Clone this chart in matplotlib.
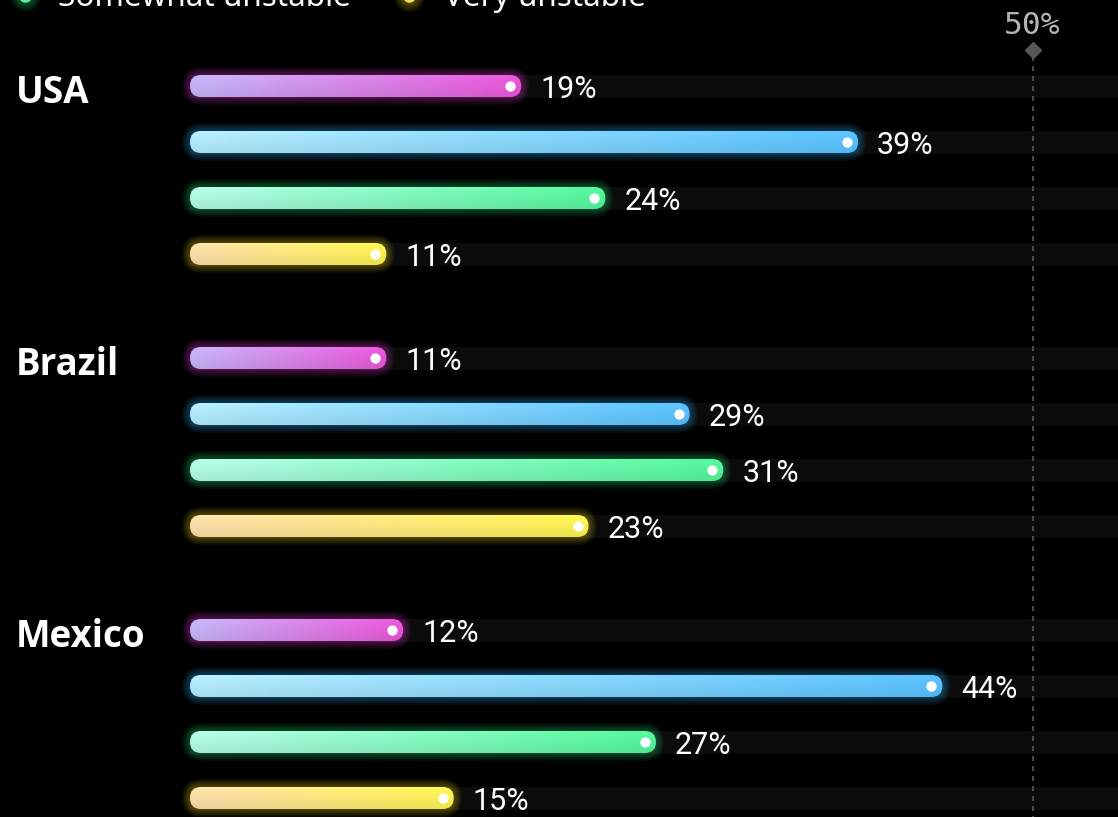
import numpy as np
import matplotlib
matplotlib.use("Agg")
import matplotlib.pyplot as plt
from matplotlib.patches import FancyBboxPatch, Rectangle
from matplotlib.colors import to_rgb
from matplotlib.transforms import blended_transform_factory

# ── data ──────────────────────────────────────────────────────────────────────
countries  = ["USA", "Brazil", "Mexico"]
categories = ["Very stable", "Somewhat stable", "Somewhat unstable", "Very unstable"]
usa    = [19, 39, 24, 11]
brazil = [11, 29, 31, 23]
mexico = [12, 44, 27, 15]
shares = [usa, brazil, mexico]
ref_line = 50

# gradient start / end and glow colour per category
grad_left  = ["#c2b3f4", "#b3e9f8", "#b3f7e2", "#f8dcaa"]
grad_right = ["#e655d6", "#58befa", "#52f298", "#f9f050"]
glow       = ["#d23cc4", "#2ea2e6", "#28c86e", "#d8c418"]

# ── layout (pixels) ───────────────────────────────────────────────────────────
W, H   = 1118, 817
x0_px  = 190        # where 0 % sits
ppp    = 16.85      # pixels per percentage point
half_h = 11         # half bar thickness
first_row, row_step, group_step = 86, 56, 272

fig = plt.figure(figsize=(W / 100, H / 100), dpi=100, facecolor="black")
ax = fig.add_axes([0, 0, 1, 1])
ax.set_facecolor("black")
ax.axis("off")

xmin, xmax = -x0_px / ppp, (W - x0_px) / ppp
cap = half_h / ppp                       # rounded end, in % units

for g, (country, vals) in enumerate(zip(countries, shares)):
    for r, v in enumerate(vals):
        yc = first_row + g * group_step + r * row_step

        # dark track behind every bar
        ax.add_patch(Rectangle((0, yc - half_h - 0.5), xmax, 2 * half_h + 1,
                               color="#0b0b0b", lw=0, zorder=1))

        # soft glow
        for k in range(1, 9):
            pad = k / ppp
            ax.add_patch(FancyBboxPatch(
                (0, yc - half_h), v + cap, 2 * half_h,
                boxstyle=f"round,pad={pad},rounding_size={cap * 0.999 + pad}",
                mutation_aspect=ppp, facecolor=glow[r], edgecolor="none",
                alpha=0.05, zorder=2))

        # bar shape used as clip for the gradient
        shape = FancyBboxPatch(
            (0, yc - half_h), v + cap, 2 * half_h,
            boxstyle=f"round,pad=0,rounding_size={cap * 0.999}",
            mutation_aspect=ppp, facecolor="none", edgecolor="none", zorder=3)
        ax.add_patch(shape)

        t = np.linspace(0, 1, 256)
        c0, c1 = np.array(to_rgb(grad_left[r])), np.array(to_rgb(grad_right[r]))
        row = c0[None, :] * (1 - t[:, None]) + c1[None, :] * t[:, None]
        shade = np.linspace(1.04, 0.95, 16)[:, None, None]
        img = np.clip(row[None, :, :] * shade, 0, 1)
        im = ax.imshow(img, extent=(0, v + cap, yc + half_h, yc - half_h),
                       aspect="auto", interpolation="bilinear", zorder=3)
        im.set_clip_path(shape)

        # end dot marks the value
        ax.scatter([v], [yc], s=55, color="white", lw=0, zorder=5)

        ax.annotate(f"{v}%", xy=(v, yc), xytext=(21.5, -8.4),
                    textcoords="offset points", ha="left", va="baseline",
                    fontfamily="Roboto", fontsize=22, color="white", zorder=6)

    ax.text(16 / W, first_row + g * group_step + 17, country,
            transform=blended_transform_factory(fig.transFigure, ax.transData),
            ha="left", va="baseline", fontfamily="Open Sans",
            fontweight="bold", fontsize=26.5, color="white")

# 50 % reference line
ax.plot([ref_line, ref_line], [56, H], color="#4a4a4a", lw=1.5,
        dashes=(2.4, 2.4), zorder=4)
ax.plot([ref_line], [50], marker="D", ms=8.5, color="#575757", zorder=5)
ax.text(ref_line, 34, f"{ref_line}%", ha="center", va="baseline",
        fontfamily="DejaVu Sans Mono", fontsize=22.5, color="#b5b5b5")

# legend (second row only reaches into the frame)
legend_items = [(categories[2], glow[2], "#55f29c", 25, 58),
                (categories[3], glow[3], "#f6e04a", 409, 444)]
for label, gcol, dcol, dot_x, txt_x in legend_items:
    fx, fy = dot_x / W, 1 + 4 / H
    for k in range(6, 0, -1):
        ax.plot([fx], [fy], "o", ms=9 + 2.2 * k, color=gcol, alpha=0.07,
                mew=0, transform=fig.transFigure, clip_on=False)
    ax.plot([fx], [fy], "o", ms=9, color=dcol, mew=0,
            transform=fig.transFigure, clip_on=False)
    fig.text(txt_x / W, 1 - 6 / H, label, ha="left", va="baseline",
             fontfamily="Noto Sans", fontsize=22.7, color="white")

ax.set_xlim(xmin, xmax)
ax.set_ylim(H, 0)

fig.savefig("out.png", dpi=100, facecolor="black")
